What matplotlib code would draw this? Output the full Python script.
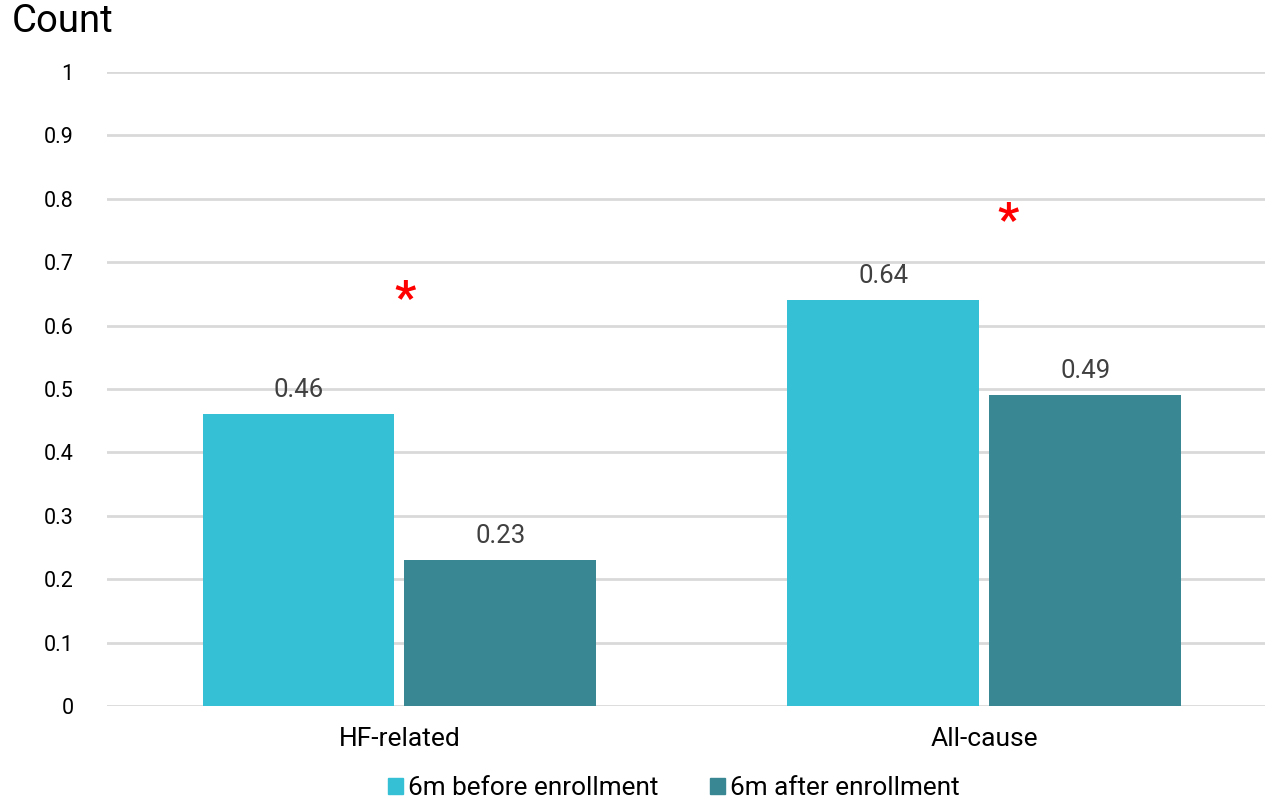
import matplotlib
matplotlib.use("Agg")
import matplotlib.pyplot as plt
from matplotlib.patches import Patch
import numpy as np

plt.rcParams['font.family'] = ['Roboto', 'DejaVu Sans']

categories = ["HF-related", "All-cause"]
series_names = ["6m before enrollment", "6m after enrollment"]
before_vals = [0.46, 0.64]
after_vals = [0.23, 0.49]
star_positions = [(0.01, 0.64), (1.04, 0.763)]
yticks = [0, 0.1, 0.2, 0.3, 0.4, 0.5, 0.6, 0.7, 0.8, 0.9, 1]
ytick_labels = ["0", "0.1", "0.2", "0.3", "0.4", "0.5", "0.6", "0.7", "0.8", "0.9", "1"]

c_before = "#35C0D5"
c_after = "#3A8794"

W, H = 1265, 799
fig = plt.figure(figsize=(W / 100, H / 100), dpi=100)
ax = fig.add_axes([107 / W, 1 - 706 / H, (1265 - 107) / W, (706 - 72) / H])

x = np.arange(len(categories))
bw = 0.328
off = 0.1725
b1 = ax.bar(x - off, before_vals, bw, color=c_before, zorder=3)
b2 = ax.bar(x + off, after_vals, bw, color=c_after, zorder=3)

for bars, vals in ((b1, before_vals), (b2, after_vals)):
    for r, v in zip(bars, vals):
        ax.text(r.get_x() + r.get_width() / 2, v + 0.019, f"{v:g}",
                ha="center", va="bottom", fontsize=18.5, color="#404040")

for (sx, sy) in star_positions:
    ax.text(sx, sy, "*", ha="center", va="center", fontsize=34,
            color="#FF0000", fontweight="bold")

ax.set_xlim(-0.5, 1.48)
ax.set_ylim(0, 1)
ax.set_yticks(yticks)
ax.set_yticklabels(ytick_labels, fontsize=15.5, color="#000000")
ax.set_xticks(x)
ax.set_xticklabels(categories, fontsize=19, color="#000000")
ax.tick_params(axis="both", length=0)
ax.tick_params(axis="y", pad=24)
ax.tick_params(axis="x", pad=15)
ax.yaxis.grid(True, color="#D9D9D9", linewidth=2, zorder=0)
for s in ax.spines.values():
    s.set_visible(False)

fig.text(12 / W, 1 - 22 / H, "Count", fontsize=27.5, ha="left", va="center", color="#000000")

handles = [Patch(color=c_before), Patch(color=c_after)]
fig.legend(handles, series_names, loc="center", bbox_to_anchor=(674 / W, 1 - 788 / H),
           ncol=2, frameon=False, fontsize=18.8, handlelength=0.55, handleheight=0.55,
           handletextpad=0.2, columnspacing=2.0)

fig.savefig("out.png", dpi=100)
